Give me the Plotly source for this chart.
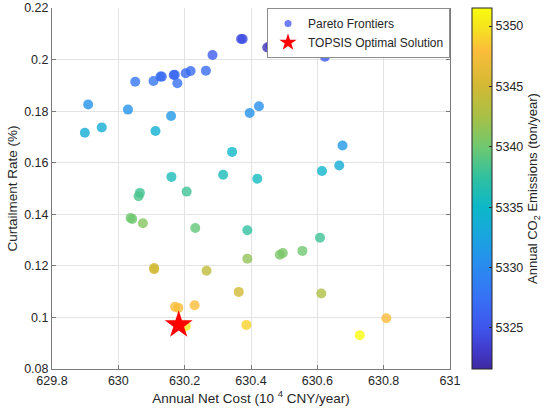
import plotly.graph_objects as go

# Pareto frontier solutions
net_cost = [
    629.899, 629.909, 629.950, 630.029, 630.051, 630.106, 630.127, 630.131,
    630.167, 630.170, 630.178, 630.203, 630.218, 630.264, 630.284, 630.370,
    630.375, 630.449, 630.459, 630.623, 630.159, 630.112, 630.396, 630.424,
    630.343, 630.316, 630.160, 630.419, 630.614, 630.666, 630.676, 630.065,
    630.061, 630.206, 630.037, 630.042, 630.074, 630.232, 630.389, 630.389,
    630.487, 630.496, 630.555, 630.608, 630.108, 630.108, 630.266, 630.363,
    630.612, 630.171, 630.181, 630.230, 630.203, 630.386, 630.808, 630.728,
]
curtailment = [
    0.1716, 0.1826, 0.1737, 0.1806, 0.1914, 0.1917, 0.1934, 0.1934,
    0.1940, 0.1941, 0.1908, 0.1947, 0.1956, 0.1957, 0.2018, 0.2080,
    0.2080, 0.2047, 0.2053, 0.2011, 0.1781, 0.1723, 0.1793, 0.1819,
    0.1642, 0.1553, 0.1545, 0.1538, 0.1568, 0.1589, 0.1667, 0.1483,
    0.1470, 0.1488, 0.1386, 0.1382, 0.1365, 0.1347, 0.1338, 0.1228,
    0.1243, 0.1250, 0.1258, 0.1309, 0.1192, 0.1187, 0.1181, 0.1099,
    0.1093, 0.1041, 0.1037, 0.1047, 0.0966, 0.0971, 0.0997, 0.0931,
]
co2 = [
    5333.5, 5331.0, 5333.5, 5331.0, 5328.0, 5328.0, 5327.0, 5327.0,
    5326.5, 5326.5, 5327.5, 5327.0, 5327.0, 5327.0, 5325.5, 5324.5,
    5324.5, 5322.5, 5323.0, 5325.5, 5331.5, 5334.0, 5331.0, 5330.5,
    5335.0, 5336.0, 5336.0, 5335.5, 5334.5, 5333.5, 5331.5, 5338.0,
    5338.5, 5338.0, 5340.0, 5340.0, 5341.0, 5339.5, 5337.5, 5341.5,
    5340.5, 5340.5, 5340.0, 5338.0, 5345.0, 5345.0, 5344.0, 5345.0,
    5343.0, 5348.0, 5348.0, 5348.0, 5350.0, 5349.0, 5348.0, 5351.5,
]

# TOPSIS optimum
topsis_cost = [630.182]
topsis_rate = [0.0971]

# axis ticks
x_ticks = [629.8, 630, 630.2, 630.4, 630.6, 630.8, 631]
y_ticks = [0.08, 0.1, 0.12, 0.14, 0.16, 0.18, 0.2, 0.22]
cbar_ticks = [5325, 5330, 5335, 5340, 5345, 5350]

# parula-like colours sampled from the reference colour bar
parula = [
    [0.0, '#3e2aa0'], [0.047, '#4038c8'], [0.114, '#3f55ec'],
    [0.197, '#3671f5'], [0.281, '#2a8af0'], [0.365, '#1aa4e0'],
    [0.448, '#0cb8c8'], [0.53, '#30c0a0'], [0.615, '#6fc870'],
    [0.70, '#a8c046'], [0.783, '#d2b934'], [0.883, '#fbbd3a'],
    [0.95, '#f5e61e'], [1.0, '#f9fb0e'],
]

font_family = "Liberation Sans, Arial, sans-serif"
text_color = '#262626'

fig = go.Figure()

fig.add_trace(go.Scatter(
    x=net_cost, y=curtailment, mode='markers',
    showlegend=False,
    marker=dict(
        size=10, color=co2, colorscale=parula,
        cmin=5321.6, cmax=5351.5, opacity=0.8,
        line=dict(width=0),
        colorbar=dict(
            x=1.055, xanchor='left', y=0.5, yanchor='middle',
            len=1, lenmode='fraction', thickness=20, ypad=0, xpad=0,
            outlinecolor='#262626', outlinewidth=1,
            tickvals=cbar_ticks, ticks='inside', ticklen=3,
            tickcolor='#262626',
            tickfont=dict(size=12.5, color=text_color, family=font_family),
            title=dict(
                text='Annual CO<sub>2</sub> Emissions (ton/year)',
                side='right',
                font=dict(size=13, color=text_color, family=font_family),
            ),
        ),
    ),
))

fig.add_trace(go.Scatter(
    x=topsis_cost, y=topsis_rate, mode='markers', showlegend=False,
    marker=dict(symbol='star', size=21, color='#ff0000', line=dict(width=0)),
))

# legend-only entries
fig.add_trace(go.Scatter(
    x=[None], y=[None], mode='markers', name='Pareto Frontiers',
    marker=dict(size=7, color='#6f7ef2'),
))
fig.add_trace(go.Scatter(
    x=[None], y=[None], mode='markers', name='TOPSIS Optimal Solution',
    marker=dict(symbol='star', size=13, color='#ff0000', line=dict(width=0)),
))

fig.update_layout(
    width=550, height=418,
    margin=dict(l=51.5, r=100, t=8, b=49),
    paper_bgcolor='white', plot_bgcolor='white',
    font=dict(family=font_family, size=12, color=text_color),
    legend=dict(
        x=1, xanchor='right', y=1, yanchor='top',
        bgcolor='white', bordercolor='#8c8c8c', borderwidth=1,
        font=dict(size=12, color=text_color, family=font_family),
        tracegroupgap=0, itemsizing='trace',
    ),
)

fig.update_xaxes(
    range=[629.8, 631], tickvals=x_ticks, automargin=False,
    ticktext=['629.8', '630', '630.2', '630.4', '630.6', '630.8', '631'],
    showgrid=True, gridcolor='#e3e3e3', zeroline=False,
    showline=True, linecolor='#7a7a7a', linewidth=1, mirror=False,
    ticks='inside', ticklen=4, tickcolor='#7a7a7a',
    tickfont=dict(size=12.5, color=text_color),
    title=dict(text='Annual Net Cost (10 <sup>4</sup> CNY/year)',
               font=dict(size=13.5, color=text_color), standoff=6),
)
fig.update_yaxes(
    range=[0.08, 0.22], tickvals=y_ticks, automargin=False,
    ticktext=['0.08', '0.1', '0.12', '0.14', '0.16', '0.18', '0.2', '0.22'],
    showgrid=True, gridcolor='#e3e3e3', zeroline=False,
    showline=True, linecolor='#7a7a7a', linewidth=1, mirror='ticks',
    ticks='inside', ticklen=4, tickcolor='#7a7a7a',
    tickfont=dict(size=12.5, color=text_color),
    title=dict(text='Curtailment Rate (%)',
               font=dict(size=13.5, color=text_color), standoff=3),
)

# the page body has a default 8px margin; drop it so the figure fills the window
fig.write_html(
    "out.html",
    config={'displayModeBar': False},
    post_script="document.body.style.margin = '0px';",
)
